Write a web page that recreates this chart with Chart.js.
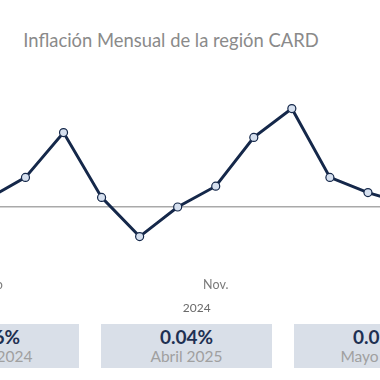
<!DOCTYPE html>
<html>
<head>
<meta charset="utf-8">
<script src="https://cdn.jsdelivr.net/npm/chart.js@4.4.1/dist/chart.umd.min.js"></script>
<style>
  html, body { margin: 0; padding: 0; width: 380px; height: 380px; overflow: hidden; background: #fff; font-family: Lato, sans-serif; }
  #title { position: absolute; left: 0; width: 342px; top: 29px; text-align: center; font-size: 18.4px; line-height: 22px; color: #8a8a8a; white-space: nowrap; }
  #wrap { position: absolute; left: -38px; top: 0; width: 461px; height: 322px; }
  .kpi { position: absolute; top: 324px; width: 171px; height: 44px; background: #d9dfe8; text-align: center; box-sizing: border-box; padding-top: 3px; }
  .kpi .v { font-size: 19px; line-height: 20px; font-weight: bold; color: #1e3052; white-space: nowrap; }
  .kpi .l { font-size: 15.5px; line-height: 18px; color: #a0a0a0; white-space: nowrap; }
</style>
</head>
<body>
<div id="title"></div>
<div id="wrap"><canvas id="c" width="461" height="322"></canvas></div>
<div id="kpis"></div>
<script>
const chartTitle = "Inflación Mensual de la región CARD";
const yearLabel = "2024";
const months = ["Mayo","Jun.","Jul.","Ago.","Sep.","Oct.","Nov.","Dic.","Ene.","Feb.","Mar.","Abr."];
const inflation = [0.10, 0.37, 0.93, 0.12, -0.37, 0.00, 0.26, 0.87, 1.23, 0.37, 0.18, 0.04];
const kpiValues = ["0.16%", "0.04%", "0.05%"];
const kpiLabels = ["Mayo 2024", "Abril 2025", "Mayo 2025"];
const kpiLefts = [-92, 101, 294];

document.getElementById('title').textContent = chartTitle;
const kp = document.getElementById('kpis');
kpiValues.forEach((v, i) => {
  const d = document.createElement('div');
  d.className = 'kpi';
  d.style.left = kpiLefts[i] + 'px';
  const a = document.createElement('div'); a.className = 'v'; a.textContent = v;
  const b = document.createElement('div'); b.className = 'l'; b.textContent = kpiLabels[i];
  d.appendChild(a); d.appendChild(b); kp.appendChild(d);
});

new Chart(document.getElementById('c'), {
  type: 'line',
  data: {
    labels: months,
    datasets: [{
      data: inflation,
      borderColor: '#15284a',
      borderWidth: 3,
      pointRadius: 4,
      pointBackgroundColor: '#d6e0ef',
      pointBorderColor: '#15284a',
      pointBorderWidth: 1.2,
      tension: 0
    }]
  },
  options: {
    responsive: false,
    animation: false,
    devicePixelRatio: 1,
    layout: { autoPadding: false, padding: { left: 9, right: 17, top: 67, bottom: 3 } },
    plugins: { legend: { display: false }, tooltip: { enabled: false } },
    scales: {
      x: {
        offset: false,
        grid: { display: false, drawTicks: false },
        border: { display: false },
        ticks: {
          autoSkip: false, maxRotation: 0, padding: 10,
          color: '#7a7a7a', font: { family: 'Lato', size: 12.5 },
          callback: (v, i) => (i % 6 === 0 ? months[i] : '')
        },
        title: { display: true, text: yearLabel, color: '#6a6a6a', font: { family: 'Lato', size: 12 }, padding: { top: 0, bottom: 4 } },
        afterFit: s => { s.height = 52; }
      },
      y: {
        min: -0.75, max: 1.75,
        ticks: { display: false, stepSize: 0.25 },
        border: { display: false },
        grid: {
          drawTicks: false,
          lineWidth: 1.5,
          color: ctx => (ctx.tick && ctx.tick.value === 0 ? '#a9a9a9' : 'rgba(0,0,0,0)')
        },
        afterFit: s => { s.width = 0; }
      }
    }
  }
});
</script>
</body>
</html>
